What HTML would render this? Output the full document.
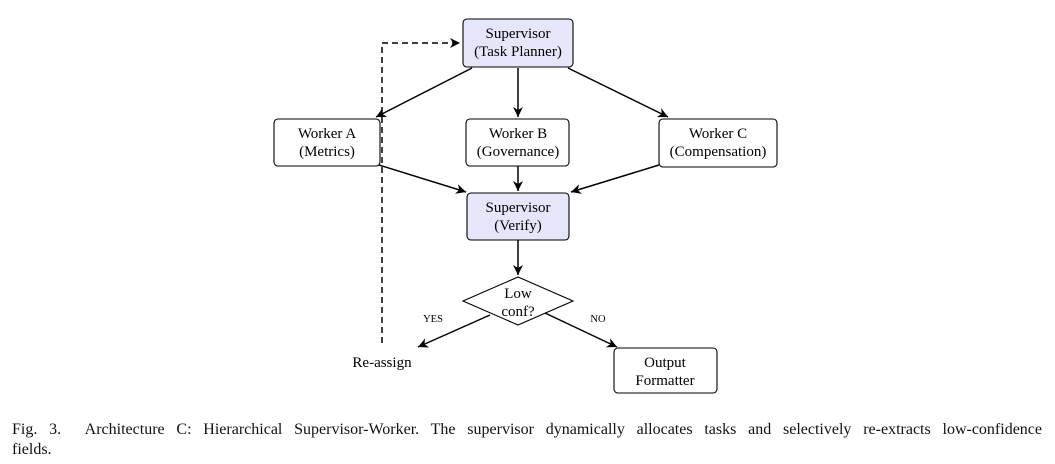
<!DOCTYPE html>
<html><head><style>
body{margin:0;background:#fff;width:1055px;height:464px;overflow:hidden;font-family:"Liberation Serif",serif;}
.cap{position:absolute;left:12px;top:420px;width:1030px;font-size:16px;line-height:20px;color:#111;}
.l1{display:block;text-align:justify;text-align-last:justify;}
</style></head><body>
<svg width="1055" height="464" style="position:absolute;left:0;top:0" font-family="Liberation Serif, serif" font-size="15" fill="#000">
<defs><marker id="a" markerWidth="12" markerHeight="10" refX="10" refY="5" orient="auto" markerUnits="userSpaceOnUse"><path d="M0,0 L10,5 L0,10 L3,5 z" fill="#000"/></marker></defs>
<g stroke="#000" stroke-width="1.1">
<rect x="463" y="19" width="110" height="48" rx="4" fill="#e6e6fa"/>
<rect x="274" y="119" width="106" height="47" rx="4" fill="#fff"/>
<rect x="466" y="119" width="103" height="47" rx="4" fill="#fff"/>
<rect x="659" y="119" width="118" height="48" rx="4" fill="#fff"/>
<rect x="467" y="193" width="102" height="47" rx="4" fill="#e6e6fa"/>
<polygon points="518,277 573,301 518,325 463,301" fill="#fff"/>
<rect x="614" y="348" width="103" height="45" rx="4" fill="#fff"/>
</g>
<g stroke="#000" stroke-width="1.5" fill="none" marker-end="url(#a)">
<line x1="472" y1="68" x2="376" y2="117"/>
<line x1="518" y1="68" x2="518" y2="117"/>
<line x1="568" y1="68" x2="668" y2="117"/>
<line x1="379" y1="165" x2="466" y2="192"/>
<line x1="518" y1="166" x2="518" y2="191"/>
<line x1="659" y1="165" x2="571" y2="192"/>
<line x1="518" y1="240" x2="518" y2="275"/>
<line x1="490" y1="315" x2="418" y2="347"/>
<line x1="545" y1="313" x2="617" y2="347"/>
<polyline points="382,343 382,43 460,43" stroke-dasharray="6,4"/>
</g>
<g text-anchor="middle">
<text x="518" y="38">Supervisor</text><text x="518" y="56">(Task Planner)</text>
<text x="327" y="138">Worker A</text><text x="327" y="156">(Metrics)</text>
<text x="518" y="138">Worker B</text><text x="518" y="156">(Governance)</text>
<text x="718" y="138">Worker C</text><text x="718" y="156">(Compensation)</text>
<text x="518" y="212">Supervisor</text><text x="518" y="230">(Verify)</text>
<text x="518" y="298">Low</text><text x="518" y="316">conf?</text>
<text x="665" y="367">Output</text><text x="665" y="385">Formatter</text>
<text x="382" y="367">Re-assign</text>
<text x="433" y="322" font-size="10.5">YES</text>
<text x="598" y="322" font-size="10.5">NO</text>
</g>
</svg>
<div class="cap"><span class="l1">Fig. 3.&nbsp;&nbsp;Architecture C: Hierarchical Supervisor-Worker. The supervisor dynamically allocates tasks and selectively re-extracts low-confidence</span>fields.</div>
</body></html>
